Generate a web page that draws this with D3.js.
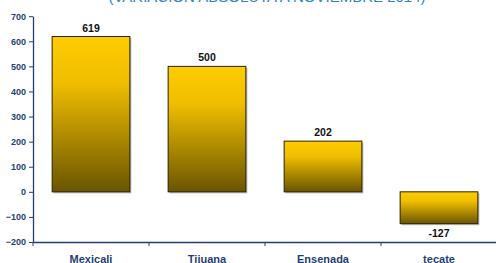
<!DOCTYPE html>
<html><head><meta charset="utf-8">
<script src="https://cdn.jsdelivr.net/npm/d3@7/dist/d3.min.js"></script>
<style>body{margin:0;background:#fff}svg{display:block}</style>
</head><body>
<script>
const categories = ["Mexicali", "Tijuana", "Ensenada", "tecate"];
const values = [619, 500, 202, -127];
const yTicks = [-200, -100, 0, 100, 200, 300, 400, 500, 600, 700];
const title = "(VARIACIÓN ABSOLUTA A NOVIEMBRE 2014)";

const W = 496, H = 263;
const svg = d3.select("body").append("svg").attr("width", W).attr("height", H);
const axisColor = "#1F3F73";
const font = "Liberation Sans, Arial, sans-serif";

const x = d3.scaleBand().domain(categories).range([33, 497]).paddingInner(0.33).paddingOuter(0.165);
const xOuter = d3.scaleBand().domain(categories).range([33, 497]);
const y = d3.scaleLinear().domain([-200, 700]).range([242, 16.2]);

const defs = svg.append("defs");
const g = defs.append("linearGradient").attr("id", "gold").attr("x1", 0).attr("y1", 0).attr("x2", 0).attr("y2", 1);
g.append("stop").attr("offset", "0%").attr("stop-color", "#FFCC00");
g.append("stop").attr("offset", "30%").attr("stop-color", "#EFBE00");
g.append("stop").attr("offset", "100%").attr("stop-color", "#6A5500");

// title (clipped at top, as in the reference)
svg.append("text").attr("x", 267).attr("y", 1.5).attr("text-anchor", "middle")
  .attr("font-family", font).attr("font-size", 15)
  .attr("fill", "#2A86CC").text(title);

// bar shadows
svg.selectAll("rect.shadow").data(values).enter().append("rect")
  .attr("x", (d, i) => x(categories[i]) + 1.5)
  .attr("y", d => y(Math.max(0, d)) + 1.5)
  .attr("width", x.bandwidth())
  .attr("height", d => Math.abs(y(d) - y(0)))
  .attr("fill", "#bbb");

// bars
svg.selectAll("rect.bar").data(values).enter().append("rect")
  .attr("x", (d, i) => x(categories[i]))
  .attr("y", d => y(Math.max(0, d)))
  .attr("width", x.bandwidth())
  .attr("height", d => Math.abs(y(d) - y(0)))
  .attr("fill", "url(#gold)")
  .attr("stroke", "#2A2200").attr("stroke-width", 1);

// value labels
svg.selectAll("text.val").data(values).enter().append("text")
  .attr("x", (d, i) => x(categories[i]) + x.bandwidth() / 2)
  .attr("y", d => d >= 0 ? y(d) - 5 : y(d) + 13)
  .attr("text-anchor", "middle")
  .attr("font-family", font).attr("font-weight", "bold")
  .attr("font-size", 10.5).attr("fill", "#111").text(d => d);

// y axis
const yAxis = svg.append("g").attr("transform", "translate(33,0)")
  .call(d3.axisLeft(y).tickValues(yTicks).tickSize(4).tickSizeOuter(0));
yAxis.select(".domain").attr("stroke", axisColor).attr("stroke-width", 1.3);
yAxis.selectAll(".tick line").attr("stroke", axisColor);
yAxis.selectAll(".tick text").attr("fill", axisColor).attr("font-family", font)
  .attr("font-weight", "bold").attr("font-size", 9).attr("x", -7);

// x axis line at bottom
const xAxis = svg.append("g").attr("transform", `translate(0,${y(-200)})`)
  .call(d3.axisBottom(xOuter).tickSize(0).tickSizeOuter(0));
xAxis.select(".domain").attr("stroke", axisColor).attr("stroke-width", 1.3);
xAxis.selectAll(".tick text").attr("fill", axisColor).attr("font-family", font)
  .attr("font-weight", "bold").attr("font-size", 11).attr("dy", 0).attr("y", 21);
// category separators
svg.selectAll("line.sep").data(categories).enter().append("line")
  .attr("x1", d => xOuter(d)).attr("x2", d => xOuter(d))
  .attr("y1", y(-200)).attr("y2", y(-200) + 4)
  .attr("stroke", axisColor).attr("stroke-width", 1);
</script>
</body></html>
